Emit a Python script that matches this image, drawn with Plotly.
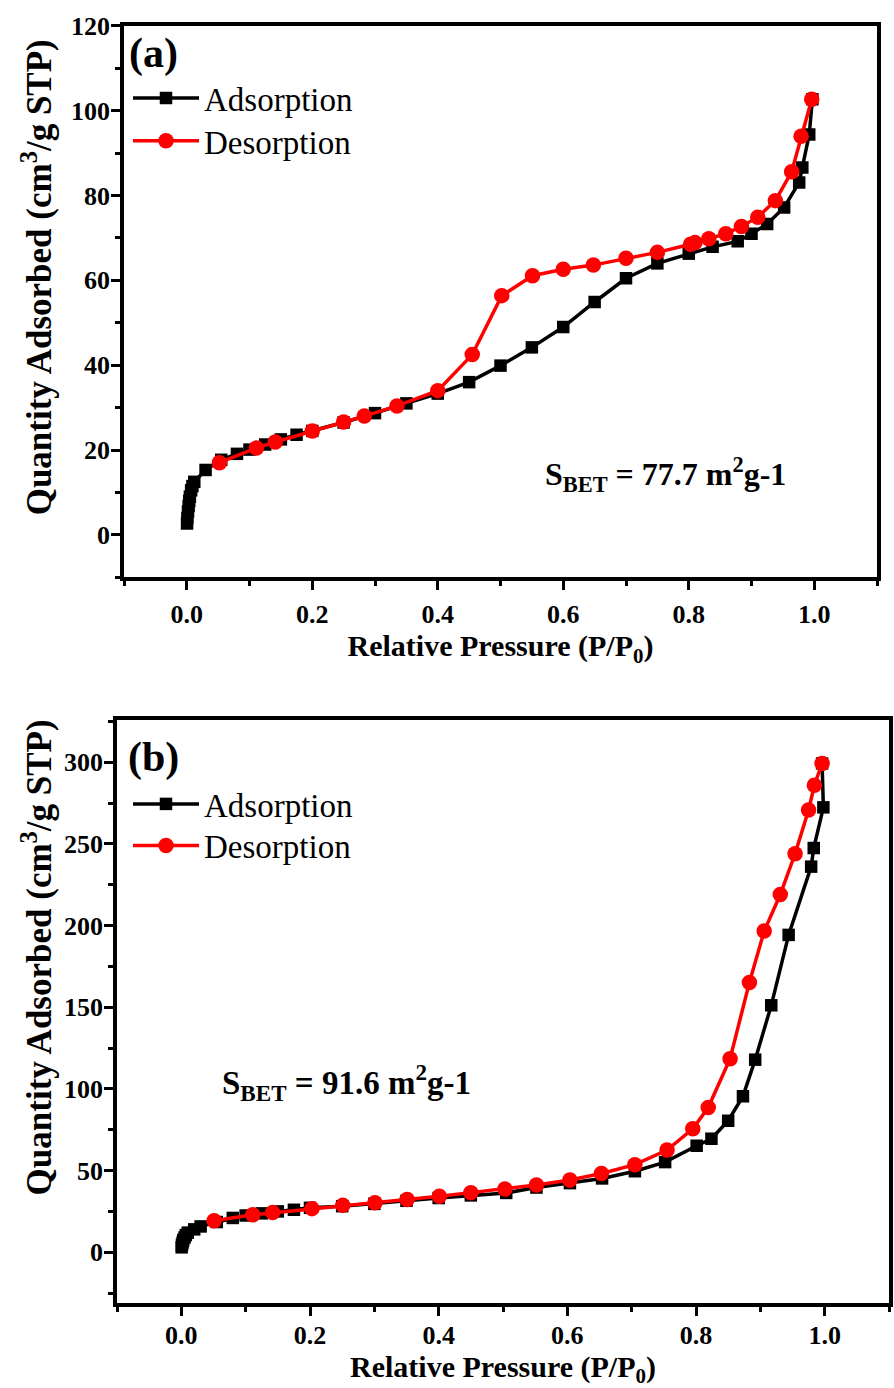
import plotly.graph_objects as go

# ---------------- data ----------------
# Panel (a)
a_ads_x = [0.0005, 0.001, 0.002, 0.003, 0.004, 0.005, 0.007, 0.009, 0.012, 0.03, 0.055, 0.08, 0.1, 0.125,
           0.15, 0.175, 0.2, 0.25, 0.3, 0.35, 0.4, 0.45, 0.5, 0.55, 0.6, 0.65, 0.7, 0.75, 0.8, 0.838,
           0.878, 0.9, 0.925, 0.952, 0.976, 0.981, 0.992, 0.997]
a_ads_y = [2.7, 4.0, 5.5, 6.8, 8.0, 9.0, 10.5, 11.5, 12.5, 15.3, 17.7, 19.1, 20.1, 21.3,
           22.5, 23.6, 24.5, 26.5, 28.7, 31.0, 33.3, 36.0, 39.9, 44.2, 49.0, 54.9, 60.5, 64.0, 66.3, 67.9,
           69.2, 71.0, 73.3, 77.2, 83.1, 86.6, 94.4, 102.7]
a_des_x = [0.996, 0.979, 0.964, 0.938, 0.91, 0.884, 0.859, 0.832, 0.81, 0.803, 0.75, 0.70, 0.648, 0.60,
           0.551, 0.502, 0.455, 0.40, 0.335, 0.283, 0.25, 0.20, 0.141, 0.111, 0.052]
a_des_y = [102.7, 94.0, 85.6, 78.8, 74.9, 72.7, 71.0, 69.8, 68.9, 68.5, 66.6, 65.2, 63.6, 62.6,
           61.1, 56.4, 42.5, 34.0, 30.4, 28.0, 26.6, 24.5, 21.9, 20.5, 17.0]

# Panel (b)
b_ads_x = [0.0005, 0.001, 0.002, 0.003, 0.005, 0.007, 0.01, 0.02, 0.03, 0.055, 0.08, 0.1, 0.125, 0.15,
           0.175, 0.2, 0.25, 0.3, 0.35, 0.4, 0.45, 0.505, 0.552, 0.604, 0.654, 0.705, 0.752, 0.801, 0.824,
           0.85, 0.873, 0.892, 0.917, 0.944, 0.979, 0.983, 0.998, 0.996]
b_ads_y = [3.0, 4.5, 6.0, 7.5, 9.0, 10.5, 12.0, 14.0, 15.8, 18.5, 21.0, 22.5, 23.8, 25.0,
           26.0, 27.2, 28.2, 29.6, 31.5, 33.2, 34.8, 36.3, 39.6, 42.3, 45.2, 49.6, 55.2, 65.2, 69.5,
           80.5, 95.5, 117.9, 151.2, 194.3, 236.1, 247.5, 272.4, 299.3]
b_des_x = [0.996, 0.984, 0.975, 0.954, 0.931, 0.906, 0.883, 0.853, 0.819, 0.795, 0.755, 0.705, 0.653,
           0.604, 0.552, 0.503, 0.45, 0.401, 0.351, 0.301, 0.251, 0.203, 0.142, 0.111, 0.051]
b_des_y = [299.3, 285.9, 270.8, 244.0, 219.0, 196.7, 165.2, 118.5, 88.6, 75.6, 62.6, 53.6, 48.2,
           44.2, 41.2, 38.7, 36.5, 34.3, 32.3, 30.3, 28.7, 26.7, 24.3, 22.9, 19.3]

series_names = ["Adsorption", "Desorption"]
panel_labels = ["(a)", "(b)"]
sbet_texts = ["S<sub>BET</sub> = 77.7 m<sup>2</sup>g-1", "S<sub>BET</sub> = 91.6 m<sup>2</sup>g-1"]
x_title = "Relative Pressure (P/P<sub>0</sub>)"
y_title = "Quantity Adsorbed (cm<sup>3</sup>/g STP)"
x_ticks = [0.0, 0.2, 0.4, 0.6, 0.8, 1.0]
a_y_ticks = [0, 20, 40, 60, 80, 100, 120]
b_y_ticks = [0, 50, 100, 150, 200, 250, 300]

# ---------------- figure ----------------
W, H = 894, 1388
FONT = "Liberation Serif"


def fx(px):
    return px / W


def fy(py):
    return 1 - py / H


fig = go.Figure()

legend_rows = {"legend": 85, "legend2": 128, "legend3": 798, "legend4": 840}


def add_pair(xa, ya, xd, yd, xax, yax, leg_a, leg_d):
    fig.add_trace(go.Scatter(x=xa, y=ya, mode="lines+markers", name=series_names[0],
                             line=dict(color="black", width=3.5),
                             marker=dict(symbol="square", size=12.5, color="black"),
                             xaxis=xax, yaxis=yax, legend=leg_a))
    fig.add_trace(go.Scatter(x=xd, y=yd, mode="lines+markers", name=series_names[1],
                             line=dict(color="#ff0000", width=3.5),
                             marker=dict(symbol="circle", size=15.5, color="#ff0000"),
                             xaxis=xax, yaxis=yax, legend=leg_d))


add_pair(a_ads_x, a_ads_y, a_des_x, a_des_y, "x", "y", "legend", "legend2")
add_pair(b_ads_x, b_ads_y, b_des_x, b_des_y, "x2", "y2", "legend3", "legend4")

tickfont = dict(family=FONT, size=26, color="black", weight="bold")
xtitlefont = dict(family=FONT, size=30, color="black", weight="bold")


def xaxis_cfg(domain, anchor, lab_off, title_off):
    return dict(domain=domain, anchor=anchor, range=[-0.1, 1.1], tickvals=x_ticks,
                ticktext=[f"{v:.1f}" for v in x_ticks],
                ticks="outside", ticklen=9, tickwidth=3, tickcolor="black",
                minor=dict(ticks="outside", dtick=0.1, tick0=0, ticklen=5, tickwidth=3, tickcolor="black"),
                showline=True, linewidth=3.5, linecolor="black", mirror=True,
                showgrid=False, zeroline=False, tickfont=tickfont, ticklabelstandoff=lab_off,
                ticklabeloverflow="allow",
                title=dict(text=x_title, font=xtitlefont, standoff=title_off))


def yaxis_cfg(domain, anchor, rng, ticks, minor_dt):
    return dict(domain=domain, anchor=anchor, range=rng, tickvals=ticks,
                ticks="outside", ticklen=9, tickwidth=3, tickcolor="black",
                minor=dict(ticks="outside", dtick=minor_dt, tick0=0, ticklen=5, tickwidth=3, tickcolor="black"),
                showline=True, linewidth=3.5, linecolor="black", mirror=True,
                showgrid=False, zeroline=False, tickfont=tickfont, ticklabelstandoff=-4,
                ticklabeloverflow="allow")


legend_font = dict(family=FONT, size=33, color="black")
legends = {}
for key, row in legend_rows.items():
    legends[key] = dict(x=fx(128), y=fy(row), xanchor="left", yanchor="middle", font=legend_font,
                        bgcolor="rgba(0,0,0,0)", itemwidth=66)

fig.update_layout(
    width=W, height=H, margin=dict(l=0, r=0, t=0, b=0),
    paper_bgcolor="white", plot_bgcolor="white",
    font=dict(family=FONT, color="black"),
    xaxis=xaxis_cfg([fx(124), fx(877)], "y", 2, 4),
    yaxis=yaxis_cfg([fy(569), fy(12)], "x", [-10, 120.001], a_y_ticks, 10),
    xaxis2=xaxis_cfg([fx(117), fx(889)], "y2", -3, 3),
    yaxis2=yaxis_cfg([fy(1302), fy(713)], "x2", [-31, 326], b_y_ticks, 25),
    showlegend=True,
    **legends,
)

# y-axis titles (rotated text placed beside each panel)
for cy in (266, 953):
    fig.add_annotation(text="<b>" + y_title + "</b>", xref="paper", yref="paper",
                       x=fx(37), y=fy(cy), xanchor="center", yanchor="middle", showarrow=False,
                       textangle=-90, font=dict(family=FONT, size=35, color="black"))

# panel labels
fig.add_annotation(text="<b>" + panel_labels[0] + "</b>", xref="paper", yref="paper",
                   x=fx(127), y=fy(40), xanchor="left", yanchor="middle", showarrow=False,
                   font=dict(family=FONT, size=42, color="black"))
fig.add_annotation(text="<b>" + panel_labels[1] + "</b>", xref="paper", yref="paper",
                   x=fx(126), y=fy(751), xanchor="left", yanchor="middle", showarrow=False,
                   font=dict(family=FONT, size=42, color="black"))
# S_BET texts
fig.add_annotation(text="<b>" + sbet_texts[0] + "</b>", xref="x", yref="y",
                   x=0.763, y=14.2, xanchor="center", yanchor="middle", showarrow=False,
                   font=dict(family=FONT, size=32, color="black"))
fig.add_annotation(text="<b>" + sbet_texts[1] + "</b>", xref="x2", yref="y2",
                   x=0.256, y=104, xanchor="center", yanchor="middle", showarrow=False,
                   font=dict(family=FONT, size=33, color="black"))

# remove the default 8 px page margin so the figure fills the window exactly
fig.write_html("out.html", config={"displayModeBar": False},
               post_script="document.body.style.margin='0px';")
